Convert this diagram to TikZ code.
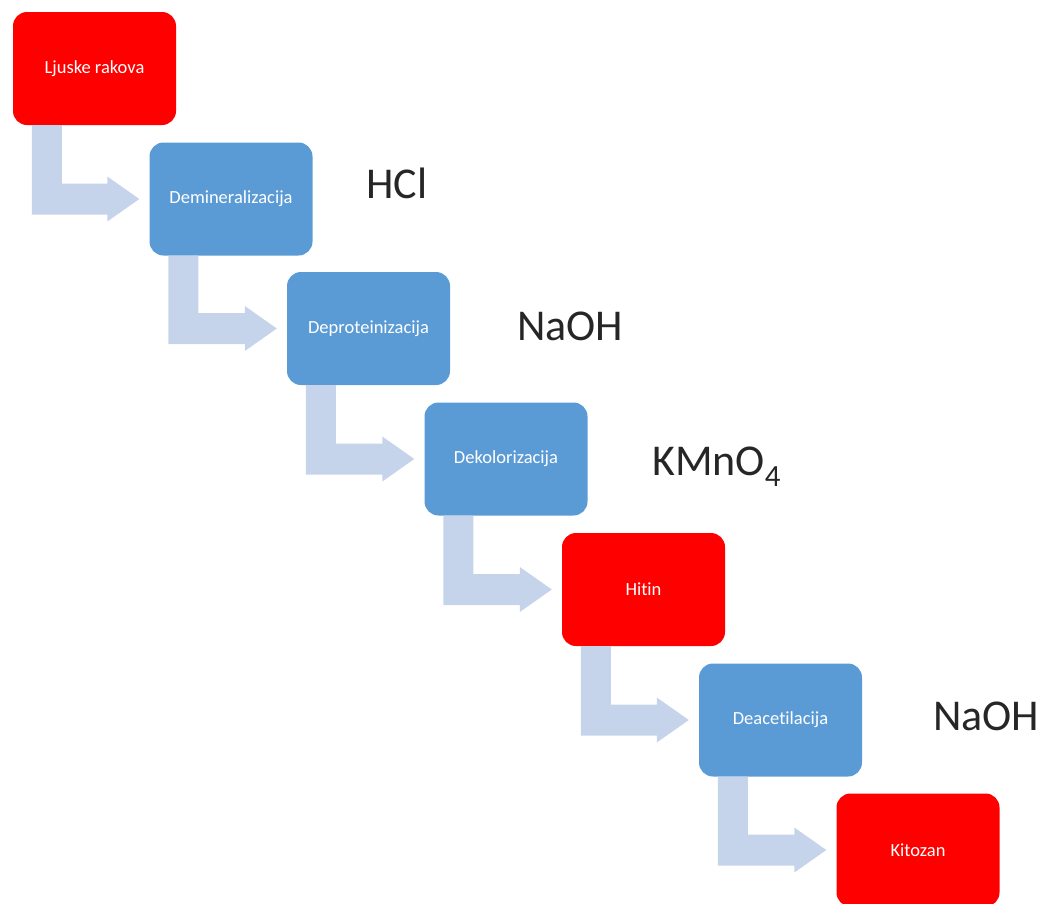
\documentclass[tikz,border=0pt]{standalone}
\usepackage{fontspec}
\setmainfont{Carlito}[Ligatures={NoCommon,NoContextual}]
\usetikzlibrary{calc}
\definecolor{boxred}{HTML}{FF0000}
\definecolor{boxblue}{HTML}{5B9BD5}
\definecolor{arrowfill}{HTML}{C5D4EA}
\tikzset{
  stepbox/.style={rounded corners=14pt, minimum width=163pt, minimum height=113pt, inner sep=0pt, font=\fontsize{18.5}{22}\selectfont, text=white},
  redbox/.style={stepbox, fill=boxred},
  bluebox/.style={stepbox, fill=boxblue},
  reagent/.style={anchor=base west, inner sep=0pt, font=\fontsize{44}{50}\selectfont, text=black!85},
  bentarrow/.style={fill=arrowfill}
}
\begin{document}
\begin{tikzpicture}[x=1pt,y=-1pt]
\useasboundingbox (0,0) rectangle (1042,903);
\node[redbox]  (b0) at (94.5,68.5)   {Ljuske rakova};
\node[bluebox] (b1) at (231,199)     {Demineralizacija};
\node[bluebox] (b2) at (368.5,328.5) {Deproteinizacija};
\node[bluebox] (b3) at (506,459)     {Dekolorizacija};
\node[redbox]  (b4) at (643.5,589.5) {Hitin};
\node[bluebox] (b5) at (780.5,720)   {Deacetilacija};
\node[redbox]  (b6) at (918,850)     {Kitozan};
\foreach \a/\b in {b0/b1,b1/b2,b2/b3,b3/b4,b4/b5,b5/b6}{
  \fill[bentarrow] ($(\a.south west)+(19,0)$) |- ($(\b.west)+(-42,15.5)$)
    -- ($(\b.west)+(-42,22.5)$) -- ($(\b.west)+(-10,0)$)
    -- ($(\b.west)+(-42,-22.5)$) -- ($(\b.west)+(-42,-15.5)$)
    -| ($(\a.south west)+(49,0)$) -- cycle;
}
\node[reagent] (r1) at (366,198) {HCl};
\node[reagent] (r2) at (517,340) {NaOH};
\node[reagent] (r3) at (652,475) {KMnO\textsubscript{4}};
\node[reagent] (r4) at (933,730) {NaOH};
\end{tikzpicture}
\end{document}
